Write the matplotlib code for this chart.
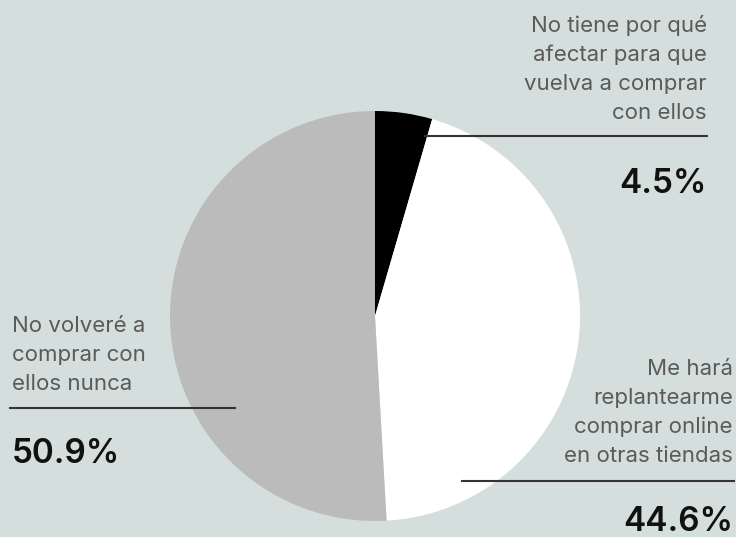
import matplotlib.pyplot as plt

labels = ['No tiene por qué\nafectar para que\nvuelva a comprar\ncon ellos',
          'Me hará\nreplantearme\ncomprar online\nen otras tiendas',
          'No volveré a\ncomprar con\nellos nunca']
values = [4.5, 44.6, 50.9]
pct_text = ['4.5%', '44.6%', '50.9%']
colors = ['#000000', '#ffffff', '#bbbbbb']

BG = '#d4dedc'
W, H = 736, 537

plt.rcParams['font.family'] = ['Inter', 'DejaVu Sans']

fig = plt.figure(figsize=(W / 100, H / 100), dpi=100, facecolor=BG)
ax = fig.add_axes([0, 0, 1, 1])
ax.set_facecolor(BG)

# pixel coords, y measured from top
def py(y):
    return H - y

ax.pie(values, colors=colors, startangle=90, counterclock=False,
       center=(375, py(316)), radius=205, frame=True,
       wedgeprops=dict(linewidth=0))

ax.set_xlim(0, W)
ax.set_ylim(0, H)
ax.set_aspect('equal')
ax.axis('off')

# leader lines
line_c = '#333333'
ax.plot([425, 707], [py(136), py(136)], color=line_c, lw=1.5)
ax.plot([10, 235], [py(408), py(408)], color=line_c, lw=1.5)
ax.plot([462, 734], [py(481), py(481)], color=line_c, lw=1.5)

lab_c = '#5a5a5a'
fs = 16
ls = 1.55
pfs = 24
ax.text(707, py(123), labels[0], ha='right', va='bottom', fontsize=fs,
        color=lab_c, linespacing=ls)
ax.text(707, py(193), pct_text[0], ha='right', va='baseline', fontsize=pfs,
        color='#111111', fontweight='semibold')

ax.text(733, py(466), labels[1], ha='right', va='bottom', fontsize=fs,
        color=lab_c, linespacing=ls)
ax.text(733, py(531), pct_text[1], ha='right', va='baseline', fontsize=pfs,
        color='#111111', fontweight='semibold')

ax.text(12, py(394), labels[2], ha='left', va='bottom', fontsize=fs,
        color=lab_c, linespacing=ls)
ax.text(12, py(463), pct_text[2], ha='left', va='baseline', fontsize=pfs,
        color='#111111', fontweight='semibold')

fig.savefig('out.png', dpi=100, facecolor=BG)
